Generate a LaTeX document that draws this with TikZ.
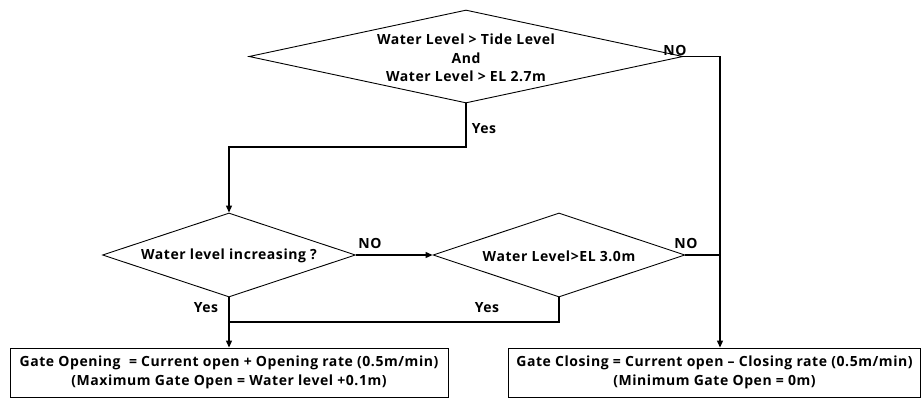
\documentclass[tikz,border=0pt]{standalone}
\usepackage{fontspec}
\setmainfont{Open Sans}[LetterSpace=4]
\usetikzlibrary{shapes.geometric,arrows.meta}
\begin{document}
\begin{tikzpicture}[x=1pt,y=-1pt,
  every node/.style={font=\bfseries\fontsize{14}{18.5}\selectfont},
  dia/.style={draw,shape=diamond,inner sep=0pt,line width=0.9pt},
  box/.style={draw,rectangle,inner sep=0pt,line width=0.9pt,align=center},
  line/.style={line width=1.2pt},
  arr/.style={line width=1.2pt,-{Triangle[length=7pt,width=6pt]}},
  lbl/.style={inner sep=0pt}]
\useasboundingbox (0,0) rectangle (922,399);
% diamonds
\node[dia,minimum width=434,minimum height=93] (d1) at (466,56.5) {};
\node[lbl,align=center] (t1) at (466,58) {Water Level > Tide Level\\And\\Water Level > EL 2.7m};
\node[dia,minimum width=253,minimum height=84] (d2) at (229,255) {};
\node[lbl] (t2) at (229,256) {Water level increasing ?};
\node[dia,minimum width=252,minimum height=84] (d3) at (559,255) {};
\node[lbl] (t3) at (559,256) {Water Level>EL 3.0m};
% boxes
\node[box,minimum width=438,minimum height=49] (b1) at (229,372.5) {Gate Opening\ \ = Current open + Opening rate (0.5m/min)\\(Maximum Gate Open = Water level +0.1m)};
\node[box,minimum width=412,minimum height=49] (b2) at (714.5,372.5) {Gate Closing = Current open -- Closing rate (0.5m/min)\\(Minimum Gate Open = 0m)};
% junction coordinates
\coordinate (j1) at (466,147);
\coordinate (c1) at (720,56.5);
\coordinate (j2) at (559,322);
% connectors
\draw[arr] (d1.south) -- (j1) -| (d2.north);
\draw[arr] (d1.east) -- (c1) -- (c1 |- b2.north);
\draw[line] (d3.east) -- (d3.east -| c1);
\draw[arr] (d2.east) -- (d3.west);
\draw[arr] (d2.south) -- (b1.north);
\draw[line] (d3.south) -- (j2) -- (j2 -| d2.south);
% labels
\node[lbl] (y1) at (484,129) {Yes};
\node[lbl] (n1) at (675,50) {NO};
\node[lbl] (n2) at (370,243) {NO};
\node[lbl] (n3) at (686,243) {NO};
\node[lbl] (y2) at (206,308) {Yes};
\node[lbl] (y3) at (487,308) {Yes};
\end{tikzpicture}
\end{document}
